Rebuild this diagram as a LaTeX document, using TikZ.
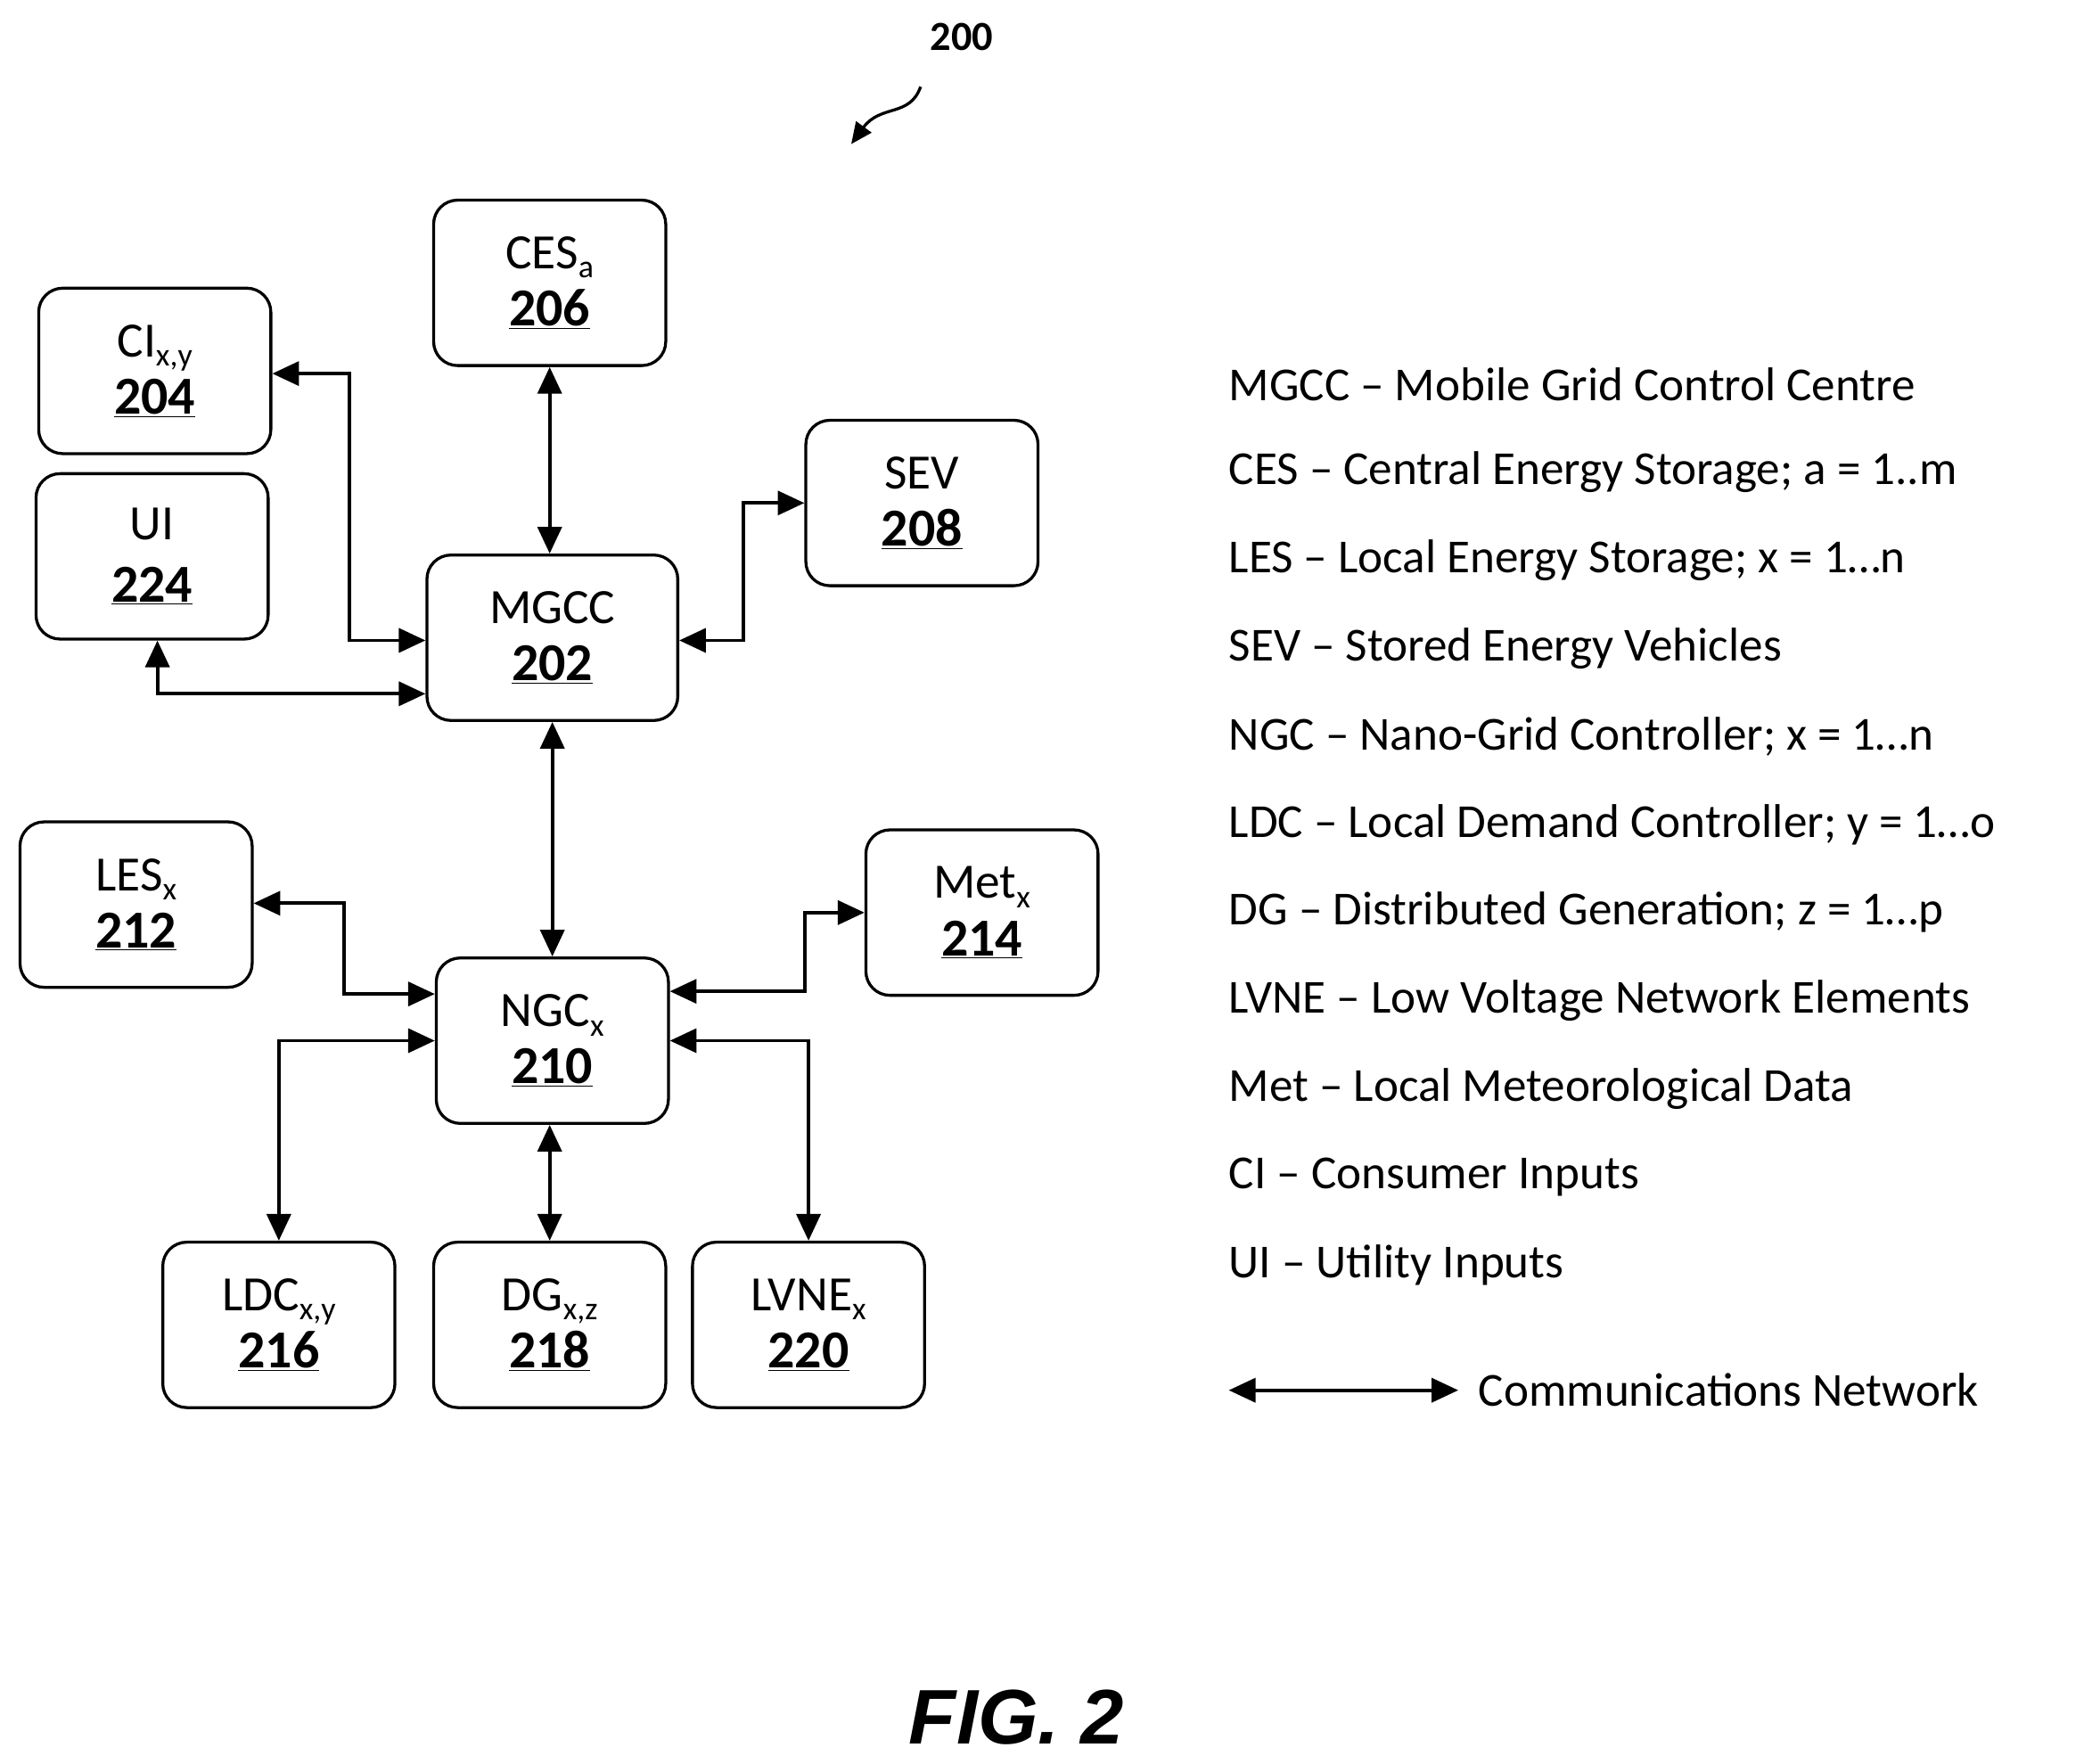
\documentclass[tikz,border=0pt]{standalone}
\usepackage{fontspec}
\setmainfont{Carlito}
\newfontfamily\figfont{Liberation Sans}
\usetikzlibrary{arrows.meta}
\begin{document}
\begin{tikzpicture}[x=1pt,y=-1pt,
  box/.style={draw,line width=2.2pt,rounded corners=18pt,minimum width=174pt,minimum height=124pt,align=center,font=\fontsize{37}{43}\selectfont,inner sep=0pt},
  con/.style={line width=2.6pt,{Triangle[length=20pt,width=18pt]}-{Triangle[length=20pt,width=18pt]}},
  leg/.style={anchor=west,font=\fontsize{35.5}{40}\selectfont,inner sep=0pt}]
\useasboundingbox (0,0) rectangle (1568,1322);
\newcommand{\nm}[1]{{\fontsize{40}{43}\selectfont\textbf{\underline{#1}}}}
\newcommand{\sbs}[1]{\raisebox{-7pt}{\fontsize{24}{24}\selectfont #1}}
\node[box] (ces) at (412,212) {CES\sbs{a}\\\nm{206}};
\node[box] (ci) at (116,278) {CI\sbs{x,y}\\\nm{204}};
\node[box] (ui) at (114,417) {UI\\[4pt]\nm{224}};
\node[box,minimum width=188pt] (mgcc) at (414,478) {MGCC\\\nm{202}};
\node[box] (sev) at (691,377) {SEV\\\nm{208}};
\node[box] (les) at (102,678) {LES\sbs{x}\\\nm{212}};
\node[box] (met) at (736,684) {Met\sbs{x}\\\nm{214}};
\node[box] (ngc) at (414,780) {NGC\sbs{x}\\\nm{210}};
\node[box] (ldc) at (209,993) {LDC\sbs{x,y}\\\nm{216}};
\node[box] (dg) at (412,993) {DG\sbs{x,z}\\\nm{218}};
\node[box] (lvne) at (606,993) {LVNE\sbs{x}\\\nm{220}};

\draw[con] (ces.south) -- (ces.south |- mgcc.north);
\draw[con] (ci.east |- 0,280) -| (262,480) -- (mgcc.west |- 0,480);
\draw[con] (ui.south -| 118,0) |- (mgcc.west |- 0,520);
\draw[con] (mgcc.east |- 0,480) -| (557,377) -- (sev.west);
\draw[con] (mgcc.south) -- (ngc.north);
\draw[con] (les.east |- 0,677) -| (258,745) -- (ngc.west |- 0,745);
\draw[con] (ngc.east |- 0,743) -| (603,684) -- (met.west);
\draw[con] (ngc.west) -| (ldc.north);
\draw[con] (ngc.south -| dg.north) -- (dg.north);
\draw[con] (ngc.east) -| (lvne.north);

\node[font=\fontsize{31}{36}\selectfont\bfseries] (n200) at (721,28) {200};
\coordinate (sq1) at (690,65);
\coordinate (sq2) at (638,108);
\draw[line width=2.2pt,-{Triangle[length=16pt,width=14pt]}] (sq1) .. controls (682,88) and (660,78) .. (sq2);

\foreach \t [count=\i] in {MGCC -- Mobile Grid Control Centre,CES -- Central Energy Storage; a = 1..m,LES -- Local Energy Storage; x = 1…n,SEV -- Stored Energy Vehicles,NGC -- Nano-Grid Controller; x = 1…n,LDC -- Local Demand Controller; y = 1…o,DG -- Distributed Generation; z = 1…p,LVNE -- Low Voltage Network Elements,Met -- Local Meteorological Data,CI -- Consumer Inputs,UI -- Utility Inputs}
  \node[leg] (l\i) at (921,{288+66*(\i-1)}) {\t};
\coordinate (ca) at (921,1042);
\coordinate (cb) at (1093,1042);
\draw[con] (ca) -- (cb);
\node[leg] (lc) at (1108,1042) {Communications Network};
\node[font=\figfont\fontsize{58}{60}\selectfont\bfseries\itshape] (fig) at (762,1287) {FIG. 2};
\end{tikzpicture}
\end{document}
